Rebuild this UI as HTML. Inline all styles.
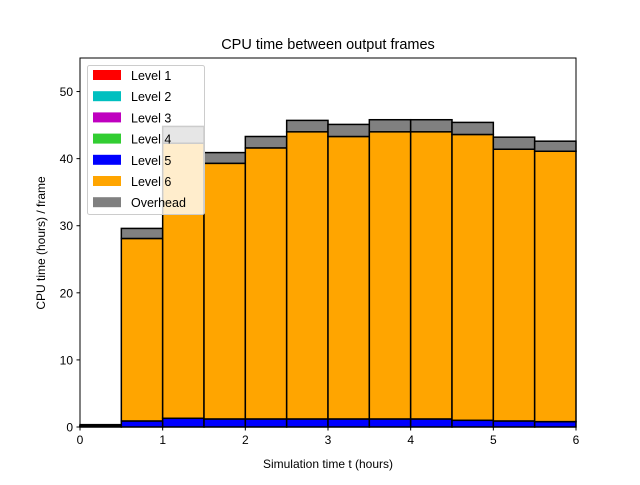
<!DOCTYPE html>
<html><head><meta charset="utf-8"><style>
html,body{margin:0;padding:0;background:#fff;}
svg text{font-family:"Liberation Sans","DejaVu Sans",sans-serif;}
</style></head><body>
<svg id="chart" width="640" height="480" xmlns="http://www.w3.org/2000/svg">
<rect width="640" height="480" fill="#fff"/>
<g id="bars"></g>
<g id="axes"></g>
<text x="328" y="49" font-size="14.5" text-anchor="middle">CPU time between output frames</text>
<text x="328" y="468" font-size="12" text-anchor="middle">Simulation time t (hours)</text>
<text transform="translate(45,243) rotate(-90)" font-size="12" text-anchor="middle">CPU time (hours) / frame</text>
<g id="legend"></g>
</svg>
<script>
const starts = [0, 0.5, 1, 1.5, 2, 2.5, 3, 3.5, 4, 4.5, 5, 5.5];
const level1 = [0,0,0,0,0,0,0,0,0,0,0,0];
const level2 = [0,0,0,0,0,0,0,0,0,0,0,0];
const level3 = [0,0,0,0,0,0,0,0,0,0,0,0];
const level4 = [0,0,0,0,0,0,0,0,0,0,0,0];
const level5 = [0.1, 0.9, 1.3, 1.2, 1.2, 1.2, 1.2, 1.2, 1.2, 1.0, 0.9, 0.8];
const level6 = [0.1, 27.2, 41.0, 38.1, 40.4, 42.8, 42.1, 42.8, 42.8, 42.6, 40.5, 40.3];
const overhead = [0.15, 1.5, 2.5, 1.6, 1.7, 1.7, 1.8, 1.8, 1.8, 1.8, 1.8, 1.5];
const xTicks = [0,1,2,3,4,5,6];
const yTicks = [0,10,20,30,40,50];
const seriesNames = ["Level 1","Level 2","Level 3","Level 4","Level 5","Level 6","Overhead"];
const seriesColors = ["#ff0000","#00bfbf","#bf00bf","#32cd32","#0000ff","#ffa500","#808080"];
const barWidth = 0.5;
const NS="http://www.w3.org/2000/svg";
const L=80,R=576,T=58,B=427,XMAX=6,YMAX=55;
const xs=v=>L+v/XMAX*(R-L);
const ys=v=>B-v/YMAX*(B-T);
function mk(tag,attrs,parent){const e=document.createElementNS(NS,tag);for(const k in attrs)e.setAttribute(k,attrs[k]);parent.appendChild(e);return e;}
const bars=document.getElementById('bars');
const series=[level1,level2,level3,level4,level5,level6,overhead];
starts.forEach((s,i)=>{
  let base=0;
  series.forEach((arr,j)=>{
    const v=arr[i]; if(v<=0) return;
    const r=mk('rect',{x:xs(s),y:ys(base+v),width:xs(s+barWidth)-xs(s),height:ys(base)-ys(base+v),fill:seriesColors[j],stroke:'#000','stroke-width':1.5},bars);
    
    
    base+=v;
  });
});
const ax=document.getElementById('axes');
const frame=mk('rect',{x:L,y:T,width:R-L,height:B-T,fill:'none',stroke:'#000','stroke-width':1},ax);


xTicks.forEach(t=>{
  mk('line',{x1:xs(t),x2:xs(t),y1:B,y2:B+3.5,stroke:'#000'},ax);
  const tx=mk('text',{x:xs(t),y:B+17,'font-size':12,'text-anchor':'middle'},ax);
  tx.textContent=t;
  
  
});
yTicks.forEach(t=>{
  mk('line',{x1:L-3.5,x2:L,y1:ys(t),y2:ys(t),stroke:'#000'},ax);
  const tx=mk('text',{x:L-7,y:ys(t)+4.5,'font-size':12,'text-anchor':'end'},ax);
  tx.textContent=t;
  
  
});
const lg=document.getElementById('legend');
const box=mk('rect',{x:87.5,y:65.5,width:117,height:149,rx:2,fill:'#fff','fill-opacity':0.8,stroke:'#ccc'},lg);


seriesNames.forEach((n,j)=>{
  const y=70+j*21.2;
  const sw=mk('rect',{x:93,y:y,width:28,height:10,fill:seriesColors[j]},lg);
  
  
  const tx=mk('text',{x:131,y:y+10,'font-size':12.5},lg);
  tx.textContent=n;
  
  
});
</script>
</body></html>
